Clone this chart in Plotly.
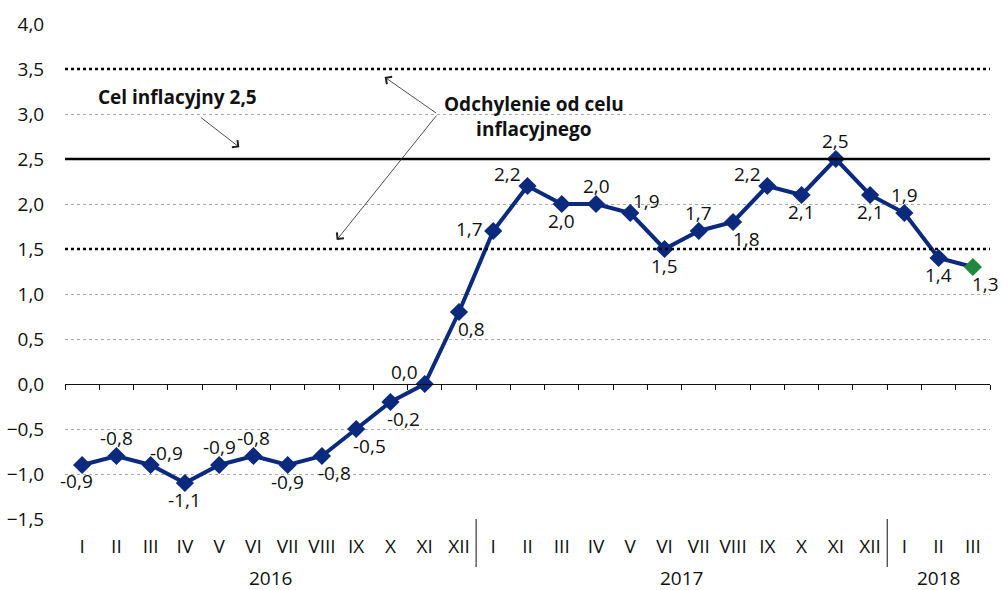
import plotly.graph_objects as go

months = ["I", "II", "III", "IV", "V", "VI", "VII", "VIII", "IX", "X", "XI", "XII",
          "I", "II", "III", "IV", "V", "VI", "VII", "VIII", "IX", "X", "XI", "XII",
          "I", "II", "III"]
years = ["2016", "2017", "2018"]
year_counts = [12, 12, 3]
cpi = [-0.9, -0.8, -0.9, -1.1, -0.9, -0.8, -0.9, -0.8, -0.5, -0.2, 0.0, 0.8,
       1.7, 2.2, 2.0, 2.0, 1.9, 1.5, 1.7, 1.8, 2.2, 2.1, 2.5, 2.1,
       1.9, 1.4, 1.3]
label_pos = ["bl", "t", "tr", "b", "t", "t", "b", "br", "br", "br", "tl", "br",
             "l", "tl", "b", "t", "tr", "b", "t", "br", "tl", "b", "t", "b",
             "t", "b", "br"]
target = 2.5
band_low, band_high = 1.5, 3.5

x = list(range(len(cpi)))
navy = "#0B2A7E"
green = "#1F8A3E"
FONT = "Open Sans"
FS = 19

shift = {"t": (0, 18), "b": (0, -17), "l": (-24, 2), "tl": (-20, 12), "tr": (16, 12),
         "bl": (-6, -16), "br": (13, -17)}

fig = go.Figure()
fig.add_trace(go.Scatter(
    x=x, y=cpi, mode="lines+markers",
    line=dict(color=navy, width=4),
    marker=dict(symbol="diamond", size=14, color=[navy] * (len(cpi) - 1) + [green]),
    showlegend=False, hoverinfo="skip", cliponaxis=False))
fig.add_trace(go.Scatter(x=[x[0]], y=[0], xaxis="x2", mode="markers",
                         marker=dict(opacity=0), showlegend=False, hoverinfo="skip"))

ann = []
for xi, yi, p in zip(x, cpi, label_pos):
    dx, dy = shift[p]
    ann.append(dict(x=xi, y=yi, text=f"{yi:.1f}".replace(".", ","), showarrow=False,
                    xshift=dx, yshift=dy, font=dict(size=FS, color="#111", family=FONT)))

start = 0
for yr, n in zip(years, year_counts):
    ann.append(dict(x=start + (n - 1) / 2, y=-0.12, xref="x", yref="paper", text=yr,
                    showarrow=False, yanchor="middle", font=dict(size=FS, color="#111", family=FONT)))
    start += n

shapes = []
start = 0
for n in year_counts[:-1]:
    start += n
    shapes.append(dict(type="line", xref="x", yref="paper", x0=start - 0.5, x1=start - 0.5,
                       y0=0, y1=-0.097, line=dict(color="#111", width=1)))

shapes.append(dict(type="line", xref="paper", yref="y", x0=0, x1=1, y0=target, y1=target,
                   line=dict(color="black", width=2.5)))
for v in (band_low, band_high):
    shapes.append(dict(type="line", xref="paper", yref="y", x0=0, x1=1, y0=v, y1=v,
                       line=dict(color="black", width=2.5, dash="dot")))

ann.append(dict(x=0.033, y=3.19, xref="paper", yref="y", text="<b>Cel inflacyjny 2,5</b>",
                showarrow=False, xanchor="left", font=dict(size=19, color="#111", family=FONT)))
ann.append(dict(x=13.2, y=2.97, xref="x", yref="y", text="<b>Odchylenie od celu<br>inflacyjnego</b>",
                showarrow=False, xanchor="center", align="center",
                font=dict(size=19, color="#111", family=FONT)))
arrow_style = dict(text="", showarrow=True, arrowhead=4, arrowsize=2.2, arrowwidth=0.8,
                   arrowcolor="#222", axref="pixel", ayref="pixel")
ann.append(dict(x=4.59, y=2.63, xref="x", yref="y", ax=-40, ay=-31, **arrow_style))
ann.append(dict(x=8.83, y=3.41, xref="x", yref="y", ax=53, ay=37, **arrow_style))
ann.append(dict(x=7.43, y=1.6, xref="x", yref="y", ax=101, ay=-126, **arrow_style))

fig.update_layout(
    width=1002, height=590,
    margin=dict(l=65, r=12, t=24, b=71),
    paper_bgcolor="white", plot_bgcolor="white",
    separators=", ",
    font=dict(family=FONT, size=FS, color="#111"),
    xaxis=dict(range=[-0.5, len(cpi) - 0.5], tickvals=x, ticktext=months, automargin=False,
               showgrid=False, zeroline=False, showline=False,
               ticks="outside", ticklen=10, tickcolor="rgba(0,0,0,0)",
               tickfont=dict(size=FS, family=FONT, color="#111")),
    xaxis2=dict(range=[-0.5, len(cpi) - 0.5], overlaying="x", anchor="free", automargin=False,
                position=1.5 / 5.5, side="bottom", showline=True, linecolor="#111", linewidth=1,
                ticks="outside", ticklen=5, tickcolor="#111", tickwidth=1,
                tickvals=[i + 0.5 for i in range(-1, len(cpi))], showticklabels=False,
                showgrid=False, zeroline=False),
    yaxis=dict(range=[-1.5, 4.0], dtick=0.5, tick0=0, tickformat=".1f", automargin=False,
               showgrid=True, gridcolor="#aaaaaa", gridwidth=1, griddash="dot",
               zeroline=False, showline=False,
               ticks="outside", ticklen=16, tickcolor="rgba(0,0,0,0)",
               tickfont=dict(size=FS, family=FONT, color="#111")),
    shapes=shapes, annotations=ann,
)

fig.write_html("out.html", config={"displayModeBar": False},
               post_script="document.body.style.margin='0';document.body.style.overflow='hidden';")
